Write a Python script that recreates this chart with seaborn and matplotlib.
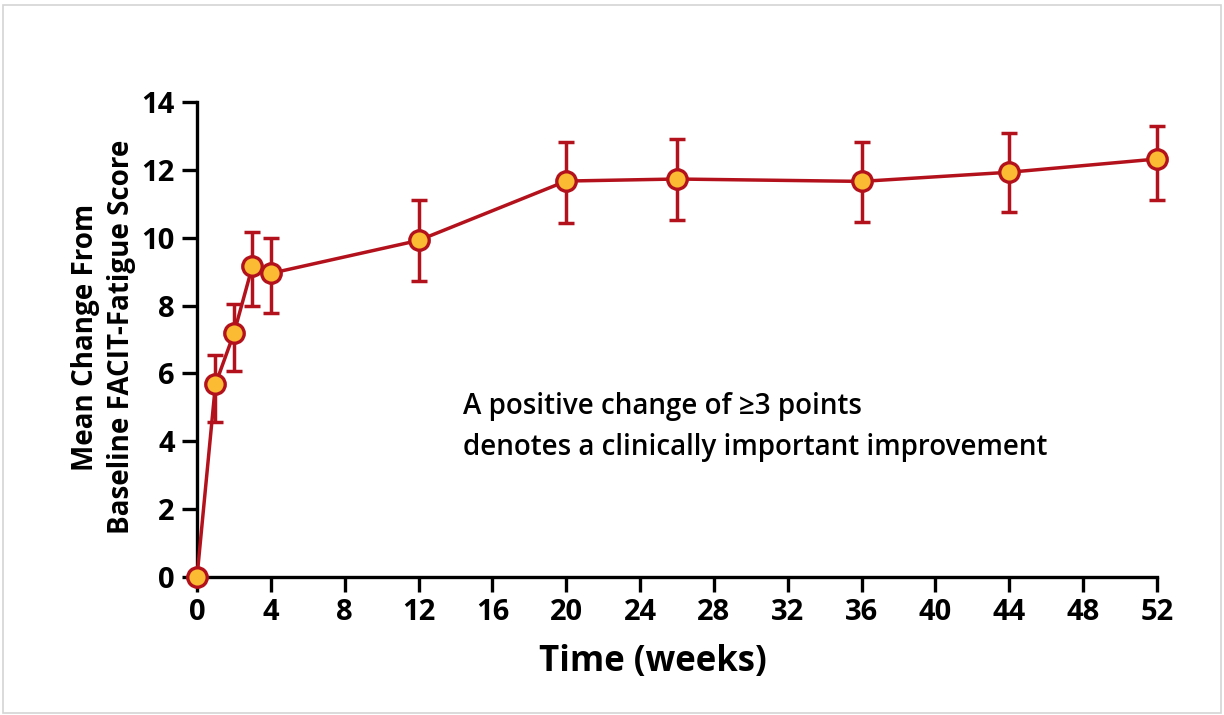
import matplotlib
matplotlib.use("Agg")
import matplotlib.pyplot as plt
import seaborn as sns
import pandas as pd
from matplotlib.patches import Rectangle

weeks = [0, 1, 2, 3, 4, 12, 20, 26, 36, 44, 52]
mean_change = [0.0, 5.68, 7.18, 9.16, 8.95, 9.92, 11.67, 11.73, 11.66, 11.93, 12.32]
err_upper = [0.0, 6.54, 8.06, 10.16, 10.0, 11.12, 12.83, 12.92, 12.83, 13.09, 13.30]
err_lower = [0.0, 4.57, 6.08, 8.0, 7.77, 8.71, 10.42, 10.52, 10.45, 10.75, 11.12]
x_ticks = [0, 4, 8, 12, 16, 20, 24, 28, 32, 36, 40, 44, 48, 52]
y_ticks = [0, 2, 4, 6, 8, 10, 12, 14]

RED = "#B3121C"
YEL = "#FBBB32"

sns.set_style("ticks")
plt.rcParams['font.family'] = ['Open Sans', 'DejaVu Sans']
plt.rcParams['text.color'] = 'black'
plt.rcParams['axes.labelcolor'] = 'black'
plt.rcParams['xtick.color'] = 'black'
plt.rcParams['ytick.color'] = 'black'

df = pd.DataFrame({"week": weeks, "mean": mean_change})

fig = plt.figure(figsize=(12.24, 7.15), dpi=100)
ax = fig.add_axes([197/1224, 1 - 577/715, 960/1224, 475/715])

yerr = [[m - lo for m, lo in zip(mean_change, err_lower)],
        [hi - m for m, hi in zip(mean_change, err_upper)]]
ax.errorbar(weeks[1:], mean_change[1:], yerr=[yerr[0][1:], yerr[1][1:]], fmt='none',
            ecolor=RED, elinewidth=2.5, capsize=6, capthick=2.5, zorder=2, clip_on=False)
sns.lineplot(data=df, x="week", y="mean", ax=ax, color=RED, linewidth=2.5,
             marker='o', markersize=14, markerfacecolor=YEL, markeredgecolor=RED,
             markeredgewidth=2.4, zorder=3, clip_on=False)

ax.set_xlim(0, 52)
ax.set_ylim(0, 14)
ax.set_xticks(x_ticks)
ax.set_yticks(y_ticks)
ax.set_xticklabels([str(t) for t in x_ticks], fontsize=21, fontweight='bold')
ax.set_yticklabels([str(t) for t in y_ticks], fontsize=21, fontweight='bold')
ax.tick_params(axis='both', length=11, width=2.4, color='black', direction='out')
ax.tick_params(axis='x', pad=4)
ax.tick_params(axis='y', pad=5)
for s in ['left', 'bottom']:
    ax.spines[s].set_linewidth(2.4)
    ax.spines[s].set_color('black')
sns.despine(ax=ax)

ax.set_xlabel("Time (weeks)", fontsize=25, fontweight='bold')
ax.xaxis.set_label_coords((653 - 197) / 960, -0.14)
ax.set_ylabel("Mean Change From\nBaseline FACIT-Fatigue Score", fontsize=20,
              fontweight='bold', linespacing=1.3)
ax.yaxis.set_label_coords(-0.064, 0.505)

ax.text(463/1224, 1 - 427/715, "A positive change of \u22653 points\ndenotes a clinically important improvement",
        transform=fig.transFigure, fontsize=20, fontweight='semibold', va='center', ha='left',
        linespacing=1.55)

fig.patches.append(Rectangle((3/1224, 2/715), 1218/1224, 708/715, transform=fig.transFigure,
                             fill=False, edgecolor='#d4d4d4', linewidth=1.2))

fig.savefig("out.png", dpi=100, facecolor='white')
